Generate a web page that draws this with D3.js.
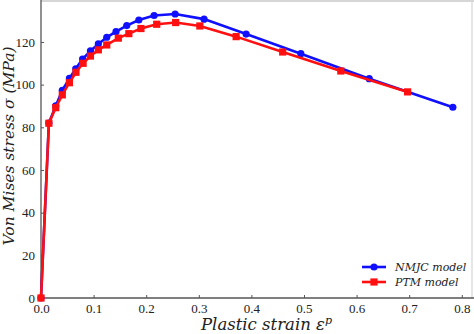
<!DOCTYPE html>
<html>
<head>
<meta charset="utf-8">
<script src="https://cdn.jsdelivr.net/npm/d3@7/dist/d3.min.js"></script>
<style>
  html, body { margin: 0; padding: 0; background: #fff; }
  svg { display: block; }
</style>
</head>
<body>
<svg id="chart" width="474" height="334"></svg>
<script>
// Plastic strain values and von Mises stress (MPa) for each model
const nmjcStrain = [0, 0.015, 0.028, 0.0405, 0.054, 0.066, 0.079, 0.094, 0.109, 0.125, 0.1426, 0.163, 0.186, 0.215, 0.255, 0.31, 0.39, 0.494, 0.624, 0.783];
const nmjcStress = [0, 82, 90, 97.3, 102.9, 107.4, 112, 115.8, 119.1, 122.2, 124.8, 127.7, 130.3, 132.4, 133.1, 130.7, 123.7, 114.5, 102.8, 89.4];
const ptmStrain = [0, 0.015, 0.028, 0.0405, 0.054, 0.0665, 0.08, 0.094, 0.109, 0.125, 0.147, 0.167, 0.19, 0.22, 0.256, 0.302, 0.371, 0.4595, 0.57, 0.697];
const ptmStress = [0, 81.9, 89.2, 95.2, 100.9, 105.8, 110, 113.4, 116.3, 118.6, 121.8, 123.9, 126.3, 128.3, 129.1, 127.5, 122.5, 115.3, 106.4, 96.6];

const xTicks = [0, 0.1, 0.2, 0.3, 0.4, 0.5, 0.6, 0.7, 0.8];
const yTicks = [0, 20, 40, 60, 80, 100, 120];
const seriesNames = ["NMJC model", "PTM model"];

const svg = d3.select("#chart");
const plotLeft = 41, plotRight = 472, plotTop = 1, plotBottom = 298;

const x = d3.scaleLinear().domain([0, 0.8194]).range([plotLeft, plotRight]);
const y = d3.scaleLinear().domain([0, 139.2]).range([plotBottom, plotTop]);

const tickFont = "'Liberation Serif', 'Times New Roman', serif";
const titleFont = "'DejaVu Serif', 'Liberation Serif', serif";

// Frame: light top/right borders, darker left/bottom spines
svg.append("line").attr("x1", plotLeft).attr("x2", 474).attr("y1", plotTop).attr("y2", plotTop)
  .attr("stroke", "#d6d6d6").attr("stroke-width", 2);
svg.append("line").attr("x1", plotRight).attr("x2", plotRight).attr("y1", 0).attr("y2", plotBottom)
  .attr("stroke", "#d6d6d6").attr("stroke-width", 1.2);

// Axes with inward ticks
const xAxis = d3.axisBottom(x).tickValues(xTicks).tickFormat(d3.format(".1f")).tickSizeInner(-3).tickSizeOuter(0).tickPadding(6);
const yAxis = d3.axisLeft(y).tickValues(yTicks).tickFormat(d3.format("d")).tickSizeInner(-3).tickSizeOuter(0).tickPadding(6);

const gx = svg.append("g").attr("transform", `translate(0,${plotBottom})`).call(xAxis);
const gy = svg.append("g").attr("transform", `translate(${plotLeft},0)`).call(yAxis);

gx.select(".domain").attr("d", `M${plotLeft - 1},0H474`);
gy.select(".domain").attr("d", `M0,${plotBottom}V0`);
[gx, gy].forEach(g => {
  g.select(".domain").attr("stroke", "#555").attr("stroke-width", 1.3);
  g.selectAll(".tick line").attr("stroke", "#555").attr("stroke-width", 1);
  g.selectAll(".tick text").attr("font-family", tickFont).attr("font-size", 13).attr("fill", "#222");
});

// Lines and markers
const nmjc = nmjcStrain.map((s, i) => [s, nmjcStress[i]]);
const ptm = ptmStrain.map((s, i) => [s, ptmStress[i]]);
const line = d3.line().x(d => x(d[0])).y(d => y(d[1]));

const blue = "#1010ff", red = "#ff1010";

svg.append("path").datum(nmjc).attr("d", line).attr("fill", "none")
  .attr("stroke", blue).attr("stroke-width", 2.6);
svg.selectAll(".nmjc").data(nmjc).join("circle").attr("class", "nmjc")
  .attr("cx", d => x(d[0])).attr("cy", d => y(d[1])).attr("r", 3.6).attr("fill", blue);

svg.append("path").datum(ptm).attr("d", line).attr("fill", "none")
  .attr("stroke", red).attr("stroke-width", 2.6);
svg.selectAll(".ptm").data(ptm).join("rect").attr("class", "ptm")
  .attr("x", d => x(d[0]) - 3.6).attr("y", d => y(d[1]) - 3.6)
  .attr("width", 7.2).attr("height", 7.2).attr("fill", red);

// Legend
const legend = svg.append("g");
const lg = [[seriesNames[0], blue, "circle", 267], [seriesNames[1], red, "rect", 282]];
lg.forEach(([name, col, shape, ly]) => {
  legend.append("line").attr("x1", 362).attr("x2", 386).attr("y1", ly).attr("y2", ly)
    .attr("stroke", col).attr("stroke-width", 2.6);
  if (shape === "circle") {
    legend.append("circle").attr("cx", 374).attr("cy", ly).attr("r", 3.6).attr("fill", col);
  } else {
    legend.append("rect").attr("x", 370.4).attr("y", ly - 3.6).attr("width", 7.2).attr("height", 7.2).attr("fill", col);
  }
  legend.append("text").attr("x", 395).attr("y", ly + 4).attr("font-family", titleFont)
    .attr("font-style", "italic").attr("font-size", 11).attr("fill", "#222").text(name);
});

// Axis titles
const xt = svg.append("text").attr("x", 201).attr("y", 330).attr("text-anchor", "start")
  .attr("font-family", titleFont).attr("font-style", "italic").attr("font-size", 16.5).attr("fill", "#222");
xt.append("tspan").text("Plastic strain ε");
xt.append("tspan").attr("font-size", 11).attr("dy", -6).text("p");

svg.append("text").attr("transform", "translate(14,146) rotate(-90)").attr("text-anchor", "middle")
  .attr("font-family", titleFont).attr("font-style", "italic").attr("font-size", 15.5).attr("fill", "#222")
  .text("Von Mises stress σ (MPa)");
</script>
</body>
</html>
